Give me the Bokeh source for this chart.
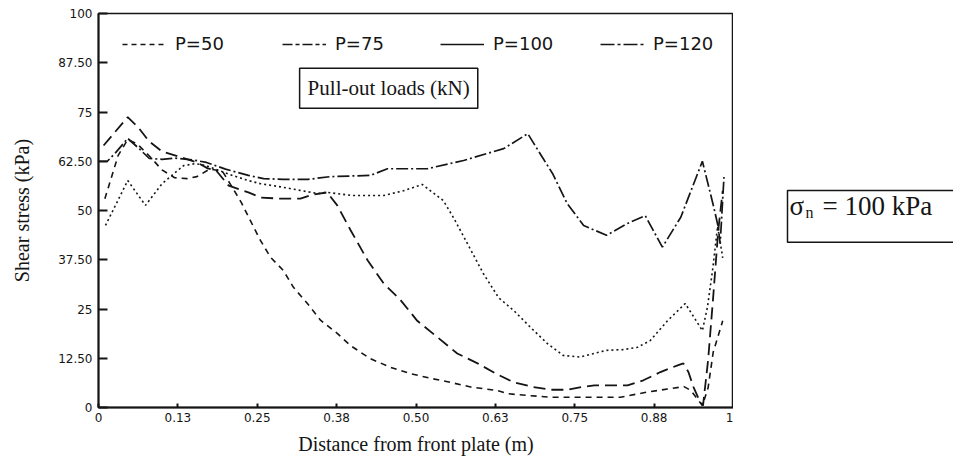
from bokeh.plotting import figure
from bokeh.layouts import row
from bokeh.models import (Range1d, FixedTicker, Label, Legend, LegendItem,
                          ColumnDataSource, BoxAnnotation)
from bokeh.embed import file_html
from bokeh.resources import INLINE

# ---- data ----
x_ticks = [0, 0.125, 0.25, 0.375, 0.5, 0.625, 0.75, 0.875, 1.0]
x_tick_labels = ["0", "0.13", "0.25", "0.38", "0.50", "0.63", "0.75", "0.88", "1"]
y_ticks = [0, 12.5, 25, 37.5, 50, 62.5, 75, 87.5, 100]
y_tick_labels = ["0", "12.50", "25", "37.50", "50", "62.50", "75", "87.50", "100"]

x50 = [0.010, 0.031, 0.046, 0.061, 0.082, 0.100, 0.120, 0.140, 0.155, 0.175, 0.195,
       0.211, 0.225, 0.239, 0.255, 0.271, 0.291, 0.307, 0.329, 0.350, 0.376, 0.397,
       0.428, 0.460, 0.491, 0.523, 0.554, 0.586, 0.628, 0.644, 0.680, 0.712, 0.780,
       0.822, 0.864, 0.896, 0.922, 0.933, 0.943, 0.951, 0.960, 0.968, 0.983]
y50 = [53.0, 64.0, 68.0, 66.9, 63.5, 60.3, 58.3, 58.1, 58.6, 60.5, 60.0,
       55.8, 52.0, 47.5, 42.4, 38.1, 34.8, 30.5, 26.4, 22.1, 18.8, 15.7,
       12.4, 10.2, 8.6, 7.4, 6.4, 5.2, 4.3, 3.5, 3.0, 2.6, 2.6,
       2.6, 3.9, 4.7, 5.3, 4.3, 2.2, 0.5, 5.0, 14.0, 22.0]

x75 = [0.008, 0.046, 0.063, 0.080, 0.100, 0.130, 0.155, 0.172, 0.185, 0.205, 0.236,
       0.255, 0.287, 0.318, 0.337, 0.360, 0.376, 0.397, 0.424, 0.449, 0.476, 0.502,
       0.534, 0.565, 0.597, 0.628, 0.654, 0.685, 0.712, 0.739, 0.760, 0.781, 0.811,
       0.833, 0.858, 0.885, 0.912, 0.921, 0.929, 0.937, 0.945, 0.952, 0.960, 0.968,
       0.976, 0.983]
y75 = [66.5, 73.7, 71.0, 67.5, 65.0, 63.5, 62.2, 60.7, 60.2, 56.3, 54.6,
       53.3, 53.0, 53.0, 54.0, 54.6, 51.3, 45.0, 37.3, 31.5, 27.2, 22.0,
       17.8, 13.7, 11.2, 8.4, 6.4, 5.2, 4.5, 4.5, 5.2, 5.6, 5.6,
       5.6, 6.9, 9.0, 10.7, 11.2, 9.0, 5.2, 2.3, 0.5, 12.0, 28.0,
       45.0, 55.0]

x100 = [0.011, 0.046, 0.074, 0.100, 0.134, 0.153, 0.169, 0.189, 0.211, 0.236, 0.255,
        0.287, 0.345, 0.360, 0.400, 0.449, 0.480, 0.510, 0.543, 0.559, 0.581, 0.606,
        0.630, 0.654, 0.680, 0.707, 0.732, 0.759, 0.780, 0.800, 0.827, 0.849, 0.869,
        0.896, 0.924, 0.951, 0.959, 0.967, 0.975, 0.983]
y100 = [46.2, 57.6, 51.3, 56.8, 61.4, 61.9, 61.4, 60.2, 58.9, 57.6, 56.8,
        56.0, 54.3, 54.6, 53.8, 53.8, 55.0, 56.6, 52.5, 48.2, 41.6, 34.0,
        27.9, 24.6, 20.4, 16.2, 13.2, 12.8, 13.7, 14.5, 14.7, 15.3, 17.0,
        22.0, 26.4, 19.5, 25.5, 34.8, 46.0, 38.0]

x120 = [0.000, 0.014, 0.027, 0.046, 0.064, 0.080, 0.100, 0.120, 0.150, 0.170, 0.200,
        0.236, 0.260, 0.291, 0.330, 0.365, 0.428, 0.455, 0.518, 0.575, 0.638, 0.676,
        0.699, 0.715, 0.738, 0.764, 0.800, 0.833, 0.861, 0.888, 0.917, 0.951, 0.969,
        0.976, 0.979, 0.985]
y120 = [62.5, 62.5, 64.7, 68.3, 65.7, 63.2, 63.0, 63.3, 62.8, 62.2, 60.5,
        58.9, 58.1, 57.9, 57.9, 58.6, 58.9, 60.6, 60.6, 62.7, 65.7, 69.5,
        63.5, 59.4, 51.8, 46.2, 43.7, 46.7, 48.7, 40.7, 48.3, 62.5, 50.8,
        45.8, 41.6, 58.5]

series_labels = ["P=50", "P=75", "P=100", "P=120"]

INK = "#151515"
SERIF = "Liberation Serif"

p = figure(frame_width=635, frame_height=394, title=None,
           min_border_left=98, min_border_right=0, min_border_top=13,
           min_border_bottom=63,
           x_range=Range1d(0, 1), y_range=Range1d(0, 100),
           output_backend="svg", toolbar_location=None)
p.background_fill_color = "white"
p.border_fill_color = "white"
p.xgrid.visible = False
p.ygrid.visible = False
p.outline_line_color = INK
p.outline_line_width = 1.5

# axes
p.xaxis.ticker = FixedTicker(ticks=x_ticks)
p.xaxis.major_label_overrides = {t: l for t, l in zip(x_ticks, x_tick_labels)}
p.yaxis.ticker = FixedTicker(ticks=y_ticks)
p.yaxis.major_label_overrides = {t: l for t, l in zip(y_ticks, y_tick_labels)}
for ax in (p.xaxis[0], p.yaxis[0]):
    ax.axis_line_color = INK
    ax.axis_line_width = 2
    ax.major_tick_line_color = INK
    ax.major_tick_line_width = 2
    ax.major_tick_out = 0
    ax.minor_tick_in = 0
    ax.minor_tick_out = 0
    ax.major_label_text_font = "DejaVu Sans"
    ax.major_label_text_font_size = "12px"
    ax.major_label_text_color = INK
    ax.axis_label_text_font = SERIF
    ax.axis_label_text_font_style = "normal"
    ax.axis_label_text_color = INK
p.yaxis.major_tick_in = 9
p.xaxis.major_tick_in = 4
p.yaxis.major_label_standoff = 6
p.xaxis.major_label_standoff = 5
p.yaxis.axis_label = "Shear stress (kPa)"
p.xaxis.axis_label = "Distance from front plate (m)"
p.yaxis.axis_label_text_font_size = "20px"
p.xaxis.axis_label_text_font_size = "20px"
p.yaxis.axis_label_standoff = 22
p.xaxis.axis_label_standoff = 8

# curves
p.line(x50, y50, line_color=INK, line_width=1.6, line_dash="6 5")
p.line(x75, y75, line_color=INK, line_width=1.8, line_dash="12 6")
p.line(x100, y100, line_color=INK, line_width=1.6, line_dash="2 3")
p.line(x120, y120, line_color=INK, line_width=1.7, line_dash="12 3 2 3")

# legend (styles as drawn in the reference key)
nan = float("nan")
key_styles = [dict(line_dash="5 4", line_width=1.6),
              dict(line_dash="10 3 4 3", line_width=1.6),
              dict(line_dash="solid", line_width=1.6),
              dict(line_dash="14 3 3 3", line_width=1.6)]
key_x = [24, 184, 342, 502]
for lab, st, kx in zip(series_labels, key_styles, key_x):
    r = p.line("x", "y", source=ColumnDataSource(data=dict(x=[nan], y=[nan])),
               line_color=INK, **st)
    leg = Legend(items=[LegendItem(label=lab, renderers=[r])],
                 location=(kx, 353), orientation="horizontal",
                 glyph_width=44, glyph_height=20, label_standoff=9,
                 padding=0, margin=0, spacing=0,
                 border_line_alpha=0, background_fill_alpha=0,
                 label_text_font="DejaVu Sans", label_text_font_size="18px",
                 label_text_color=INK)
    p.add_layout(leg)

# boxed annotation inside the plot
p.add_layout(Label(x=0.457, y=81.0, text="Pull-out loads (kN)",
                   text_align="center", text_baseline="middle",
                   text_font=SERIF, text_font_size="21px", text_color=INK,
                   border_line_color=INK, border_line_width=1.5,
                   background_fill_color="white", padding=8))

# side panel with the sigma_n note
q = figure(width=220, height=470, title=None, min_border=0,
           x_range=Range1d(0, 220), y_range=Range1d(0, 470),
           x_axis_location=None, y_axis_location=None,
           output_backend="svg", toolbar_location=None)
q.xgrid.visible = False
q.ygrid.visible = False
q.outline_line_color = None
q.background_fill_color = "white"
q.border_fill_color = "white"
q.add_layout(BoxAnnotation(left=54, right=300, top=259, bottom=197,
                           fill_alpha=0, line_color=INK, line_alpha=1,
                           line_width=1.5))
q.add_layout(Label(x=56, y=240, text="σ", text_baseline="alphabetic",
                   text_font=SERIF, text_font_size="27px", text_color=INK))
q.add_layout(Label(x=72, y=233, text="n", text_baseline="alphabetic",
                   text_font=SERIF, text_font_size="16px", text_color=INK))
q.add_layout(Label(x=89, y=240, text="=  100 kPa", text_baseline="alphabetic",
                   text_font=SERIF, text_font_size="27px", text_color=INK))

layout = row(p, q, spacing=0)
open("out.html", "w").write(file_html(layout, INLINE))
